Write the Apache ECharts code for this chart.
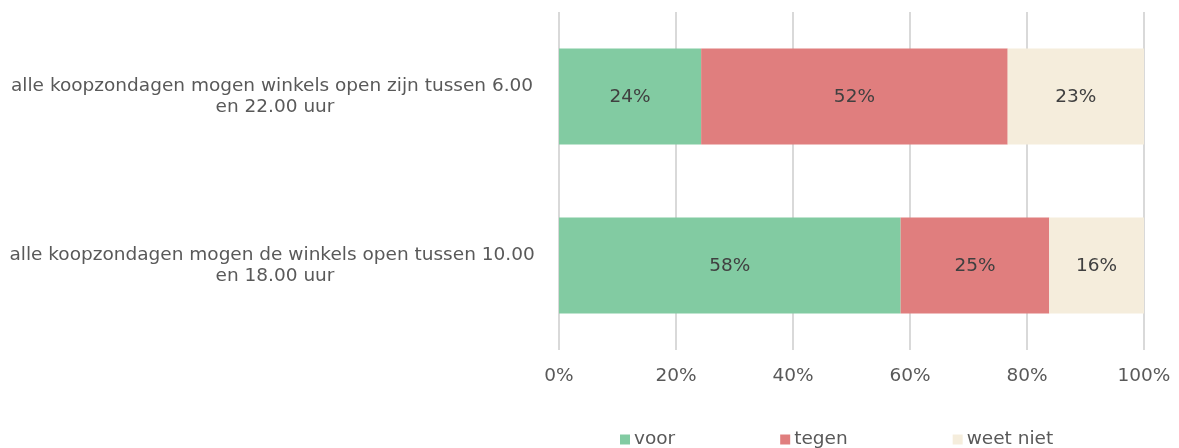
<!DOCTYPE html>
<html>
<head>
<meta charset="utf-8">
<script src="https://cdn.jsdelivr.net/npm/echarts@6/dist/echarts.min.js"></script>
<style>
  html, body { margin: 0; padding: 0; background: #fff; }
  #chart { width: 1179px; height: 448px; }
</style>
</head>
<body>
<div id="chart"></div>
<script>
// categories, bottom to top as the y axis draws them
var categories = [
  "alle koopzondagen mogen de winkels open tussen 10.00 en 18.00 uur",
  "alle koopzondagen mogen winkels open zijn tussen 6.00 en 22.00 uur"
];
var voor = [58.4, 24.3];
var tegen = [25.4, 52.4];
var weetNiet = [16.2, 23.3];
var xTicks = [0, 20, 40, 60, 80, 100];

var font = "DejaVu Sans, Verdana, sans-serif";
var fs = 18.5;
var chart = echarts.init(document.getElementById("chart"));

function barSeries(name, data, color) {
  return {
    name: name,
    type: "bar",
    stack: "total",
    data: data,
    barWidth: 96,
    itemStyle: { color: color },
    label: {
      show: true,
      position: "inside",
      color: "#404040",
      fontSize: fs,
      fontFamily: font,
      offset: [0, 1],
      formatter: function(p) {
        return Math.round(p.value) + "%";
      }
    },
    animation: false
  };
}

chart.setOption({
  textStyle: { fontFamily: font },
  grid: {
    left: 559,
    right: 35,
    top: 12,
    bottom: 98
  },
  legend: {
    data: ["voor", "tegen", "weet niet"],
    left: 615,
    top: 425,
    itemWidth: 10,
    itemHeight: 10,
    itemGap: 105,
    icon: "rect",
    textStyle: { color: "#595959", fontSize: fs, fontFamily: font, padding: [0, 0, 0, -1] }
  },
  xAxis: {
    type: "value",
    min: xTicks[0],
    max: xTicks[xTicks.length - 1],
    interval: 20,
    axisLine: { show: false },
    axisTick: { show: false },
    splitLine: { lineStyle: { color: "#d9d9d9", width: 2 } },
    axisLabel: {
      color: "#595959",
      fontSize: fs,
      fontFamily: font,
      margin: 17,
      formatter: "{value}%"
    }
  },
  yAxis: {
    type: "category",
    data: categories,
    axisLine: { show: false },
    axisTick: { show: false },
    axisLabel: {
      color: "#595959",
      fontSize: fs,
      fontFamily: font,
      align: "center",
      margin: 284,
      width: 540,
      overflow: "break",
      lineHeight: 21,
      padding: [2, 0, 0, 0]
    }
  },
  series: [
    barSeries("voor", voor, "#82cba2"),
    barSeries("tegen", tegen, "#e07e7e"),
    barSeries("weet niet", weetNiet, "#f5eddc")
  ]
});
</script>
</body>
</html>
